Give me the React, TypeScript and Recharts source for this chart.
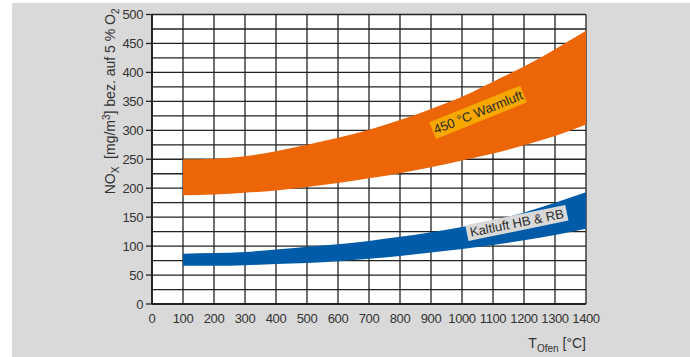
import React from "react";
import {
  Area,
  CartesianGrid,
  ComposedChart,
  ReferenceDot,
  XAxis,
  YAxis,
} from "recharts";

// furnace temperature [°C]
const temps = [100, 200, 300, 400, 500, 600, 700, 800, 900, 1000, 1100, 1200, 1300, 1400];

// 450 °C Warmluft band
const warmLow = [188, 189, 192, 196, 202, 209, 217, 226, 236, 248, 260, 274, 290, 310];
const warmHigh = [250, 251, 255, 264, 275, 287, 301, 318, 337, 358, 384, 410, 440, 472];

// Kaltluft HB & RB band
const coldLow = [66, 66, 67, 69, 71, 74, 78, 83, 89, 95, 102, 110, 119, 130];
const coldHigh = [87, 88, 90, 94, 99, 103, 109, 116, 124, 133, 144, 158, 175, 193];

const xTicks = [0, 100, 200, 300, 400, 500, 600, 700, 800, 900, 1000, 1100, 1200, 1300, 1400];
const yTicks = [0, 50, 100, 150, 200, 250, 300, 350, 400, 450, 500];
const gridTicks = [0, 25, 50, 75, 100, 125, 150, 175, 200, 225, 250, 275, 300, 325, 350, 375, 400, 425, 450, 475, 500];

const data = temps.map((t, i) => ({
  t,
  warm: [warmLow[i], warmHigh[i]],
  cold: [coldLow[i], coldHigh[i]],
}));

const FONT = "'Liberation Sans', Arial, sans-serif";
const ORANGE = "#ec6608";
const BLUE = "#005ca9";

function BandLabel(props: any) {
  const { cx, cy, text, fill, angle, w, h } = props;
  return (
    <g transform={`translate(${cx},${cy}) rotate(${angle})`}>
      <rect x={-w / 2} y={-h / 2} width={w} height={h} fill={fill} />
      <text
        x={0}
        y={4.5}
        textAnchor="middle"
        fontSize={13}
        fontFamily={FONT}
        fill="#2a2a2a"
      >
        {text}
      </text>
    </g>
  );
}

function YTitle(props: any) {
  const vb = props.viewBox || { x: 0, y: 0, width: 0, height: 0 };
  const x = vb.x + vb.width - 37;
  const y = vb.y - 6;
  return (
    <text
      transform={`translate(${x},${y}) rotate(-90)`}
      textAnchor="end"
      fontSize={14}
      fontFamily={FONT}
      fill="#333"
    >
      NO
      <tspan fontSize={10} dy={4}>X</tspan>
      <tspan dy={-4}>{"\u00a0\u00a0[mg/m"}</tspan>
      <tspan fontSize={10} dy={-5}>3</tspan>
      <tspan dy={5}>] bez. auf 5 % O</tspan>
      <tspan fontSize={10} dy={4}>2</tspan>
    </text>
  );
}

function XTitle(props: any) {
  const vb = props.viewBox || { x: 0, y: 0, width: 0, height: 0 };
  return (
    <text
      x={vb.x + vb.width}
      y={vb.y + 44}
      textAnchor="end"
      fontSize={14}
      fontFamily={FONT}
      fill="#333"
    >
      T
      <tspan fontSize={10} dy={4}>Ofen</tspan>
      <tspan dy={-4}> [°C]</tspan>
    </text>
  );
}

export default function App() {
  return (
    <div style={{ position: "fixed", left: 0, top: 0, width: 690, height: 357, background: "#fff" }}>
      <div style={{ position: "absolute", left: 12, top: 3, width: 678, height: 354, background: "#d9d9d9" }} />
      <div style={{ position: "absolute", left: 0, top: 0 }}>
        <ComposedChart
          width={690}
          height={357}
          data={data}
          margin={{ top: 14.5, right: 104, bottom: 0, left: 0 }}
        >
          <CartesianGrid
            horizontalValues={gridTicks}
            fill="#fff"
            stroke="#222"
            strokeWidth={1.3}
            strokeOpacity={1}
          />
          <XAxis
            type="number"
            dataKey="t"
            domain={[0, 1400]}
            ticks={xTicks}
            interval={0}
            height={53}
            tickSize={0}
            tickMargin={10}
            tickLine={false}
            axisLine={{ stroke: "#111", strokeWidth: 1.5 }}
            tick={{ fontSize: 13, fontFamily: FONT, fill: "#333", letterSpacing: -0.4 }}
            label={{ content: XTitle }}
          />
          <YAxis
            domain={[0, 500]}
            ticks={yTicks}
            interval={0}
            width={152}
            tickSize={6}
            tickMargin={3}
            tickLine={{ stroke: "#222", strokeWidth: 1.3 }}
            axisLine={{ stroke: "#111", strokeWidth: 1.5 }}
            tick={{ fontSize: 13, fontFamily: FONT, fill: "#333", letterSpacing: -0.4 }}
            label={{ content: YTitle }}
          />
          <Area
            type="monotone"
            dataKey="warm"
            stroke="none"
            fill={ORANGE}
            fillOpacity={1}
            dot={false}
            activeDot={false}
            isAnimationActive={false}
          />
          <Area
            type="monotone"
            dataKey="cold"
            stroke="none"
            fill={BLUE}
            fillOpacity={1}
            dot={false}
            activeDot={false}
            isAnimationActive={false}
          />
          <ReferenceDot
            x={1052}
            y={331}
            shape={(p: any) => (
              <BandLabel {...p} text="450 °C Warmluft" fill="#f6a800" angle={-22} w={98} h={18} />
            )}
          />
          <ReferenceDot
            x={1177}
            y={140}
            shape={(p: any) => (
              <BandLabel {...p} text="Kaltluft HB & RB" fill="#d9d9d9" angle={-11.5} w={102} h={16} />
            )}
          />
        </ComposedChart>
      </div>
    </div>
  );
}
